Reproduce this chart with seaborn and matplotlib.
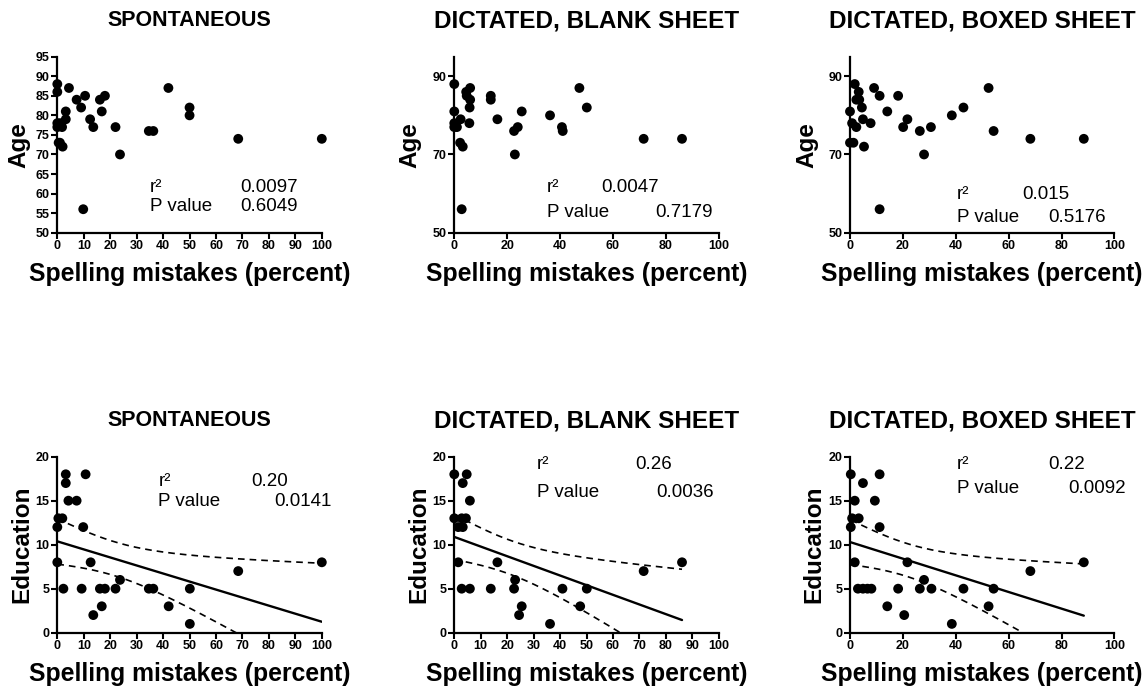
import numpy as np
import pandas as pd
import matplotlib
matplotlib.use("Agg")
import matplotlib.pyplot as plt
import seaborn as sns

# --- data (spelling mistakes in percent vs age / education) ---
spont_age_x = [0, 0, 0, 0, 0.5, 1, 1, 1.8, 2, 3.2, 3.2, 4.4, 7.3, 9, 9.8, 10.5, 12.4, 13.6,
               16.1, 16.8, 18, 22, 23.7, 34.6, 36.3, 42, 50, 50, 68.4, 100]
spont_age_y = [88, 86, 78, 77, 73, 78, 73, 77, 72, 81, 79, 87, 84, 82, 56, 85, 79, 77,
               84, 81, 85, 77, 70, 76, 76, 87, 82, 80, 74, 74]

blank_age_x = [0, 0, 0, 0, 1, 2.2, 2.4, 2.8, 3.2, 4.5, 4.7, 5.7, 5.8, 6, 6, 13.8, 13.8, 16.3,
               22.6, 22.9, 24, 25.5, 36.2, 40.7, 41, 47.3, 50.1, 71.6, 86.1]
blank_age_y = [88, 81, 78, 77, 77, 73, 79, 56, 72, 86, 85, 78, 82, 87, 84, 85, 84, 79,
               76, 70, 77, 81, 80, 77, 76, 87, 82, 74, 74]

boxed_age_x = [0, 0, 0.8, 1.3, 1.8, 2.4, 2.4, 3.3, 3.5, 4.5, 4.9, 5.3, 7.8, 9.1, 11.2, 11.2,
               14.1, 18.2, 20.1, 21.7, 26.4, 28, 30.6, 38.5, 42.9, 52.4, 54.3, 68.2, 88.4]
boxed_age_y = [81, 73, 78, 73, 88, 84, 77, 86, 84, 82, 79, 72, 78, 87, 85, 56,
               81, 85, 77, 79, 76, 70, 77, 80, 82, 87, 76, 74, 74]

spont_edu_x = [0, 0, 0.4, 1.9, 2.3, 3.2, 3.2, 4.2, 7.3, 9.2, 9.8, 10.7, 12.6, 13.6, 16.1,
               16.8, 18, 22, 23.7, 34.6, 36.3, 42.1, 50.1, 50.1, 68.4, 100]
spont_edu_y = [12, 8, 13, 13, 5, 18, 17, 15, 15, 5, 12, 18, 8, 2, 5,
               3, 5, 5, 6, 5, 5, 3, 5, 1, 7, 8]

blank_edu_x = [0, 0, 1.5, 1.5, 2.8, 2.8, 3.2, 3.2, 4.4, 4.7, 5.9, 5.9, 13.8, 16.3, 22.6,
               23, 24.5, 25.5, 36.2, 40.9, 47.6, 50.1, 71.6, 86.1]
blank_edu_y = [18, 13, 12, 8, 13, 5, 17, 12, 13, 18, 15, 5, 5, 8, 5,
               6, 2, 3, 1, 5, 3, 5, 7, 8]

boxed_edu_x = [0.3, 0.3, 0.8, 1.8, 1.8, 3, 3.3, 4.9, 4.9, 6.6, 8.1, 9.4, 11.2, 11.2, 14.1,
               18.2, 20.5, 21.7, 26.4, 28, 30.8, 38.5, 42.9, 52.4, 54.3, 68.2, 88.4]
boxed_edu_y = [18, 12, 13, 15, 8, 5, 13, 17, 5, 5, 5, 15, 18, 12, 3,
               5, 2, 8, 5, 6, 5, 1, 5, 3, 5, 7, 8]

titles = ["SPONTANEOUS", "DICTATED, BLANK SHEET", "DICTATED, BOXED SHEET"]
r2_text = ["0.0097", "0.0047", "0.015", "0.20", "0.26", "0.22"]
p_text = ["0.6049", "0.7179", "0.5176", "0.0141", "0.0036", "0.0092"]
x_label = "Spelling mistakes (percent)"

sns.set_style("ticks")
plt.rcParams["font.family"] = ["Liberation Sans", "DejaVu Sans"]


def fit_band(x, y, t_crit=2.06):
    # least squares line with 95% confidence band of the fit
    x = np.asarray(x, float)
    y = np.asarray(y, float)
    n = len(x)
    slope, icpt = np.polyfit(x, y, 1)
    xs = np.linspace(x.min(), x.max(), 200)
    yhat = icpt + slope * xs
    s = np.sqrt(np.sum((y - (icpt + slope * x)) ** 2) / (n - 2))
    se = s * np.sqrt(1 / n + (xs - x.mean()) ** 2 / np.sum((x - x.mean()) ** 2))
    return xs, yhat, yhat - t_crit * se, yhat + t_crit * se


panels = [
    dict(x=spont_age_x, y=spont_age_y, ylab="Age", ylim=(50, 95), yt=np.arange(50, 96, 5),
         xt=np.arange(0, 101, 10), fit=False, ylc=-0.1,
         r2pos=(0.351, 0.256), r2vpos=(0.69, 0.256), ppos=(0.351, 0.149), pvpos=(0.69, 0.149)),
    dict(x=blank_age_x, y=blank_age_y, ylab="Age", ylim=(50, 95), yt=[50, 70, 90],
         xt=np.arange(0, 101, 20), fit=False, ylc=-0.123,
         r2pos=(0.35, 0.254), r2vpos=(0.557, 0.254), ppos=(0.35, 0.115), pvpos=(0.758, 0.115)),
    dict(x=boxed_age_x, y=boxed_age_y, ylab="Age", ylim=(50, 95), yt=[50, 70, 90],
         xt=np.arange(0, 101, 20), fit=False, ylc=-0.12,
         r2pos=(0.404, 0.216), r2vpos=(0.65, 0.216), ppos=(0.404, 0.089), pvpos=(0.751, 0.089)),
    dict(x=spont_edu_x, y=spont_edu_y, ylab="Education", ylim=(0, 20), yt=[0, 5, 10, 15, 20],
         xt=np.arange(0, 101, 10), fit=True, ylc=-0.092,
         r2pos=(0.382, 0.86), r2vpos=(0.735, 0.86), ppos=(0.382, 0.746), pvpos=(0.819, 0.746)),
    dict(x=blank_edu_x, y=blank_edu_y, ylab="Education", ylim=(0, 20), yt=[0, 5, 10, 15, 20],
         xt=np.arange(0, 101, 10), fit=True, ylc=-0.092,
         r2pos=(0.312, 0.955), r2vpos=(0.683, 0.955), ppos=(0.312, 0.794), pvpos=(0.765, 0.794)),
    dict(x=boxed_edu_x, y=boxed_edu_y, ylab="Education", ylim=(0, 20), yt=[0, 5, 10, 15, 20],
         xt=np.arange(0, 101, 20), fit=True, ylc=-0.092,
         r2pos=(0.404, 0.955), r2vpos=(0.751, 0.955), ppos=(0.404, 0.817), pvpos=(0.827, 0.817)),
]

lefts = [0.0501, 0.3971, 0.743]
bottoms = [0.6618, 0.0804]
title_sizes = [15.5, 17.5, 17.5]

fig = plt.figure(figsize=(11.44, 6.88), dpi=100)

for i, p in enumerate(panels):
    row, col = divmod(i, 3)
    ax = fig.add_axes([lefts[col], bottoms[row], 0.2312, 0.2558])
    df = pd.DataFrame({"x": p["x"], "y": p["y"]})
    sns.scatterplot(data=df, x="x", y="y", ax=ax, color="black", s=50,
                    edgecolor="none", clip_on=False, zorder=5)
    if p["fit"]:
        xs, yhat, lo, hi = fit_band(p["x"], p["y"])
        sns.lineplot(x=xs, y=yhat, ax=ax, color="black", lw=1.7, zorder=4)
        ax.plot(xs, lo, color="black", lw=1.2, ls=(0, (4, 3)), zorder=4)
        ax.plot(xs, hi, color="black", lw=1.2, ls=(0, (4, 3)), zorder=4)

    ax.set_xlim(0, 100)
    ax.set_ylim(*p["ylim"])
    ax.set_xticks(p["xt"])
    ax.set_yticks(p["yt"])
    sns.despine(ax=ax)
    for side in ["left", "bottom"]:
        ax.spines[side].set_linewidth(1.6)
        ax.spines[side].set_color("black")
    ax.tick_params(direction="out", length=4, width=1.5, labelsize=9, pad=1.5, colors="black")
    for lbl in ax.get_xticklabels() + ax.get_yticklabels():
        lbl.set_fontweight("bold")

    ax.set_xlabel(x_label, fontsize=17.8, fontweight="bold", color="black")
    ax.set_ylabel(p["ylab"], fontsize=17.5, fontweight="bold", color="black")
    ax.xaxis.set_label_coords(0.5, -0.165)
    ax.yaxis.set_label_coords(p["ylc"], 0.5)

    ax.text(0.5, 1.205, titles[col], transform=ax.transAxes, ha="center", va="center",
            fontsize=title_sizes[col], fontweight="bold", color="black")

    kw = dict(transform=ax.transAxes, ha="left", va="center", fontsize=13.5, color="black")
    ax.text(*p["r2pos"], "r²", **kw)
    ax.text(*p["r2vpos"], r2_text[i], **kw)
    ax.text(*p["ppos"], "P value", **kw)
    ax.text(*p["pvpos"], p_text[i], **kw)

fig.savefig("out.png", dpi=100)
